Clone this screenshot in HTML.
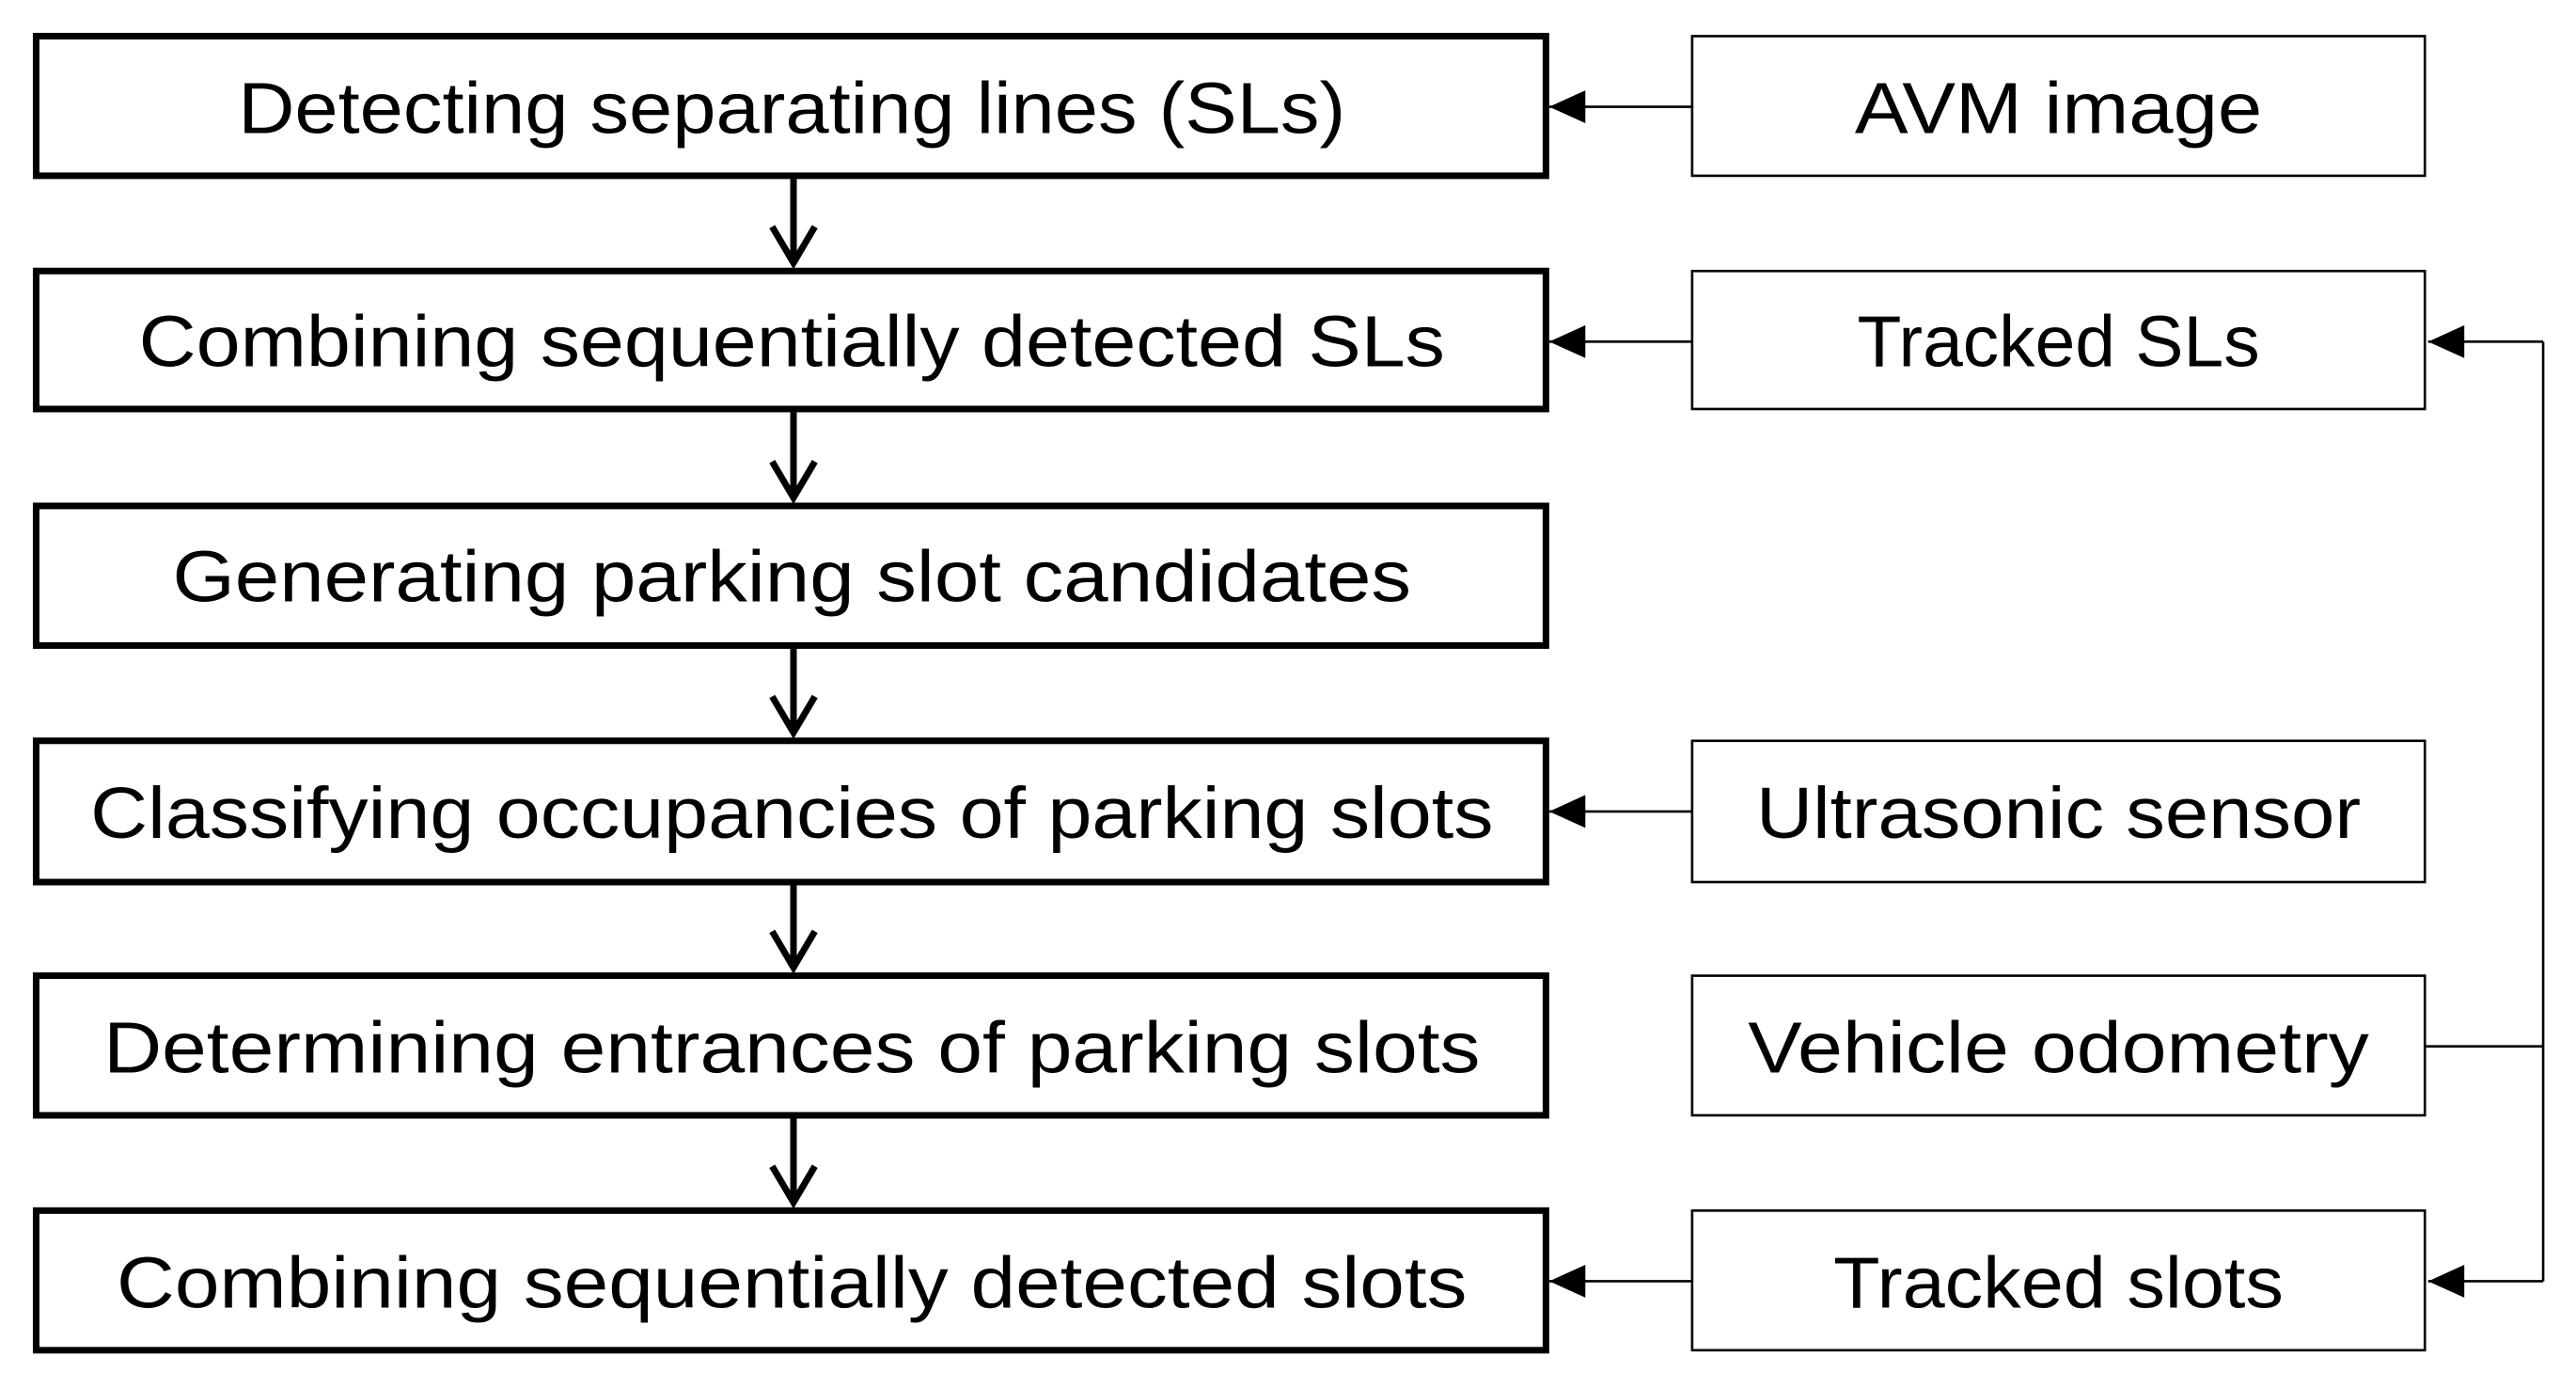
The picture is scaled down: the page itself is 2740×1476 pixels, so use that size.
<!DOCTYPE html>
<html><head><style>html,body{margin:0;padding:0;background:#fff}svg{display:block}</style></head>
<body>
<svg width="2740" height="1476" viewBox="0 0 1568 845" preserveAspectRatio="none" xmlns="http://www.w3.org/2000/svg">
<defs>
<marker id="tri" markerWidth="22" markerHeight="20" refX="0" refY="10" orient="auto" markerUnits="userSpaceOnUse">
<path d="M0,10 L22,0 L22,20 Z" fill="#000"/></marker>
</defs>
<g fill="#fff" stroke="#000" stroke-width="4">
<rect x="22" y="22" width="919" height="85"/>
<rect x="22" y="165" width="919" height="84"/>
<rect x="22" y="308" width="919" height="85"/>
<rect x="22" y="451" width="919" height="86"/>
<rect x="22" y="594" width="919" height="85"/>
<rect x="22" y="737" width="919" height="85"/>
</g>
<g fill="#fff" stroke="#000" stroke-width="1.5">
<rect x="1030" y="22" width="446" height="85"/>
<rect x="1030" y="165" width="446" height="84"/>
<rect x="1030" y="451" width="446" height="86"/>
<rect x="1030" y="594" width="446" height="85"/>
<rect x="1030" y="737" width="446" height="85"/>
</g>
<g stroke="#000" stroke-width="4" fill="none">
<path d="M483,109 V160 M470,138 L483,160 L496,138"/>
<path d="M483,251 V303 M470,281 L483,303 L496,281"/>
<path d="M483,395 V446 M470,424 L483,446 L496,424"/>
<path d="M483,539 V589 M470,567 L483,589 L496,567"/>
<path d="M483,681 V732 M470,710 L483,732 L496,710"/>
</g>
<g stroke="#000" stroke-width="1.5" fill="none">
<path d="M1030,65 H943"/><path d="M1030,208 H943"/><path d="M1030,494 H943"/><path d="M1030,780 H943"/>
<path d="M1476,637 H1548"/><path d="M1548,208 V780"/>
<path d="M1548,208 H1478"/><path d="M1548,780 H1478"/>
</g>
<g fill="#000">
<path d="M943,65 L965,55 L965,75 Z"/><path d="M943,208 L965,198 L965,218 Z"/>
<path d="M943,494 L965,484 L965,504 Z"/><path d="M943,780 L965,770 L965,790 Z"/>
<path d="M1478,208 L1500,198 L1500,218 Z"/><path d="M1478,780 L1500,770 L1500,790 Z"/>
</g>
<g font-family="Liberation Sans, sans-serif" font-size="44" fill="#000" text-anchor="middle" lengthAdjust="spacingAndGlyphs">
<text x="482" y="81" textLength="674" lengthAdjust="spacingAndGlyphs">Detecting separating lines (SLs)</text>
<text x="482" y="223" textLength="795" lengthAdjust="spacingAndGlyphs">Combining sequentially detected SLs</text>
<text x="482" y="366" textLength="754" lengthAdjust="spacingAndGlyphs">Generating parking slot candidates</text>
<text x="482" y="510" textLength="854" lengthAdjust="spacingAndGlyphs">Classifying occupancies of parking slots</text>
<text x="482" y="653" textLength="838" lengthAdjust="spacingAndGlyphs">Determining entrances of parking slots</text>
<text x="482" y="796" textLength="822" lengthAdjust="spacingAndGlyphs">Combining sequentially detected slots</text>
<text x="1253" y="81" textLength="248" lengthAdjust="spacingAndGlyphs">AVM image</text>
<text x="1253" y="223" textLength="245" lengthAdjust="spacingAndGlyphs">Tracked SLs</text>
<text x="1253" y="510" textLength="368" lengthAdjust="spacingAndGlyphs">Ultrasonic sensor</text>
<text x="1253" y="653" textLength="378" lengthAdjust="spacingAndGlyphs">Vehicle odometry</text>
<text x="1253" y="796" textLength="274" lengthAdjust="spacingAndGlyphs">Tracked slots</text>
</g>
</svg>
</body></html>
